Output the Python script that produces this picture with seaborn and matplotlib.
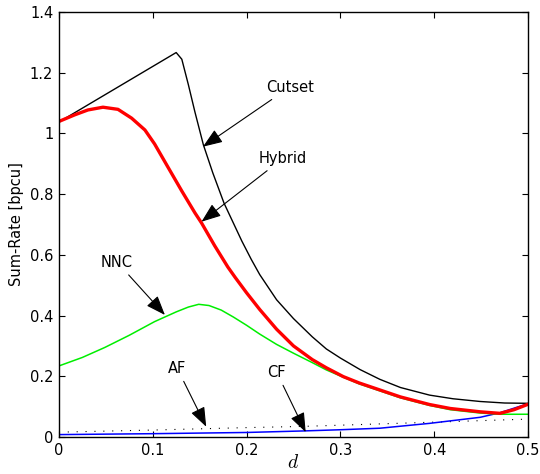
import numpy as np
import pandas as pd
import matplotlib
matplotlib.use('Agg')
import matplotlib.pyplot as plt
import seaborn as sns

# values
cutset_d = [0, 0.125, 0.131, 0.138, 0.145, 0.154, 0.164, 0.176, 0.195, 0.205, 0.214, 0.232, 0.25, 0.27, 0.285,
            0.3, 0.321, 0.342, 0.364, 0.395, 0.42, 0.449, 0.475, 0.5]
cutset_v = [1.037, 1.266, 1.244, 1.16, 1.07, 0.962, 0.87, 0.77, 0.645, 0.585, 0.535, 0.452, 0.39, 0.33, 0.29,
            0.26, 0.222, 0.19, 0.163, 0.138, 0.126, 0.117, 0.112, 0.111]

hybrid_d = [0, 0.017, 0.031, 0.047, 0.063, 0.0775, 0.0917, 0.102, 0.116, 0.131, 0.145, 0.152, 0.166, 0.18,
            0.188, 0.2, 0.214, 0.232, 0.25, 0.27, 0.285, 0.303, 0.32, 0.342, 0.364, 0.395, 0.417, 0.449,
            0.47, 0.485, 0.5]
hybrid_v = [1.039, 1.061, 1.077, 1.086, 1.079, 1.05, 1.011, 0.965, 0.89, 0.81, 0.738, 0.705, 0.63, 0.56,
            0.525, 0.475, 0.42, 0.355, 0.30, 0.255, 0.228, 0.199, 0.178, 0.155, 0.132, 0.107, 0.094, 0.083,
            0.078, 0.09, 0.108]

nnc_d = [0, 0.025, 0.049, 0.075, 0.102, 0.125, 0.138, 0.149, 0.16, 0.173, 0.186, 0.2, 0.214, 0.232, 0.25,
         0.27, 0.285, 0.303, 0.32, 0.342, 0.364, 0.395, 0.417, 0.449, 0.47, 0.5]
nnc_v = [0.234, 0.262, 0.295, 0.335, 0.38, 0.412, 0.428, 0.437, 0.433, 0.418, 0.395, 0.368, 0.339, 0.305, 0.276,
         0.245, 0.221, 0.197, 0.175, 0.152, 0.129, 0.104, 0.09, 0.079, 0.075, 0.075]

cf_d = [0, 0.1, 0.2, 0.26, 0.3, 0.342, 0.395, 0.449, 0.47, 0.5]
cf_v = [0.008, 0.011, 0.015, 0.02, 0.024, 0.029, 0.045, 0.065, 0.08, 0.11]

af_d = [0, 0.1, 0.2, 0.26, 0.3, 0.4, 0.5]
af_v = [0.016, 0.023, 0.031, 0.035, 0.039, 0.049, 0.059]

xticks = [0, 0.1, 0.2, 0.3, 0.4, 0.5]
xticklabels = ['0', '0.1', '0.2', '0.3', '0.4', '0.5']
yticks = [0, 0.2, 0.4, 0.6, 0.8, 1.0, 1.2, 1.4]
yticklabels = ['0', '0.2', '0.4', '0.6', '0.8', '1', '1.2', '1.4']

# label, tip of arrow, text position (data coords)
notes = [
    ('Cutset', (0.1535, 0.956), (0.246, 1.152)),
    ('Hybrid', (0.152, 0.709), (0.239, 0.918)),
    ('NNC', (0.113, 0.402), (0.062, 0.576)),
    ('AF', (0.157, 0.034), (0.126, 0.227)),
    ('CF', (0.263, 0.016), (0.232, 0.214)),
]

sns.set_theme(style='white')
plt.rcParams['font.family'] = ['DejaVu Sans']
plt.rcParams['mathtext.fontset'] = 'cm'
plt.rcParams['text.color'] = 'black'
plt.rcParams['axes.labelcolor'] = 'black'

fig = plt.figure(figsize=(5.4, 4.74), dpi=100)
ax = fig.add_axes([0.109, 0.078, 0.869, 0.897])

sns.lineplot(x=af_d, y=af_v, ax=ax, color='black', lw=0.8, linestyle=(0, (1, 7)), sort=False)
sns.lineplot(x=cf_d, y=cf_v, ax=ax, color='blue', lw=1.1, sort=False)
sns.lineplot(x=nnc_d, y=nnc_v, ax=ax, color='#00ee00', lw=1.1, sort=False)
sns.lineplot(x=cutset_d, y=cutset_v, ax=ax, color='black', lw=1.0, sort=False)
sns.lineplot(x=hybrid_d, y=hybrid_v, ax=ax, color='red', lw=2.4, sort=False)

for label, tip, txt in notes:
    ax.annotate(label, xy=tip, xytext=txt, ha='center', va='center', fontsize=10.5, color='black',
                arrowprops=dict(arrowstyle='-|>,head_length=1.0,head_width=0.38',
                                color='black', lw=0.8, shrinkA=2, shrinkB=0,
                                mutation_scale=12))

ax.set_xlim(0, 0.5)
ax.set_ylim(0, 1.4)
ax.set_xticks(xticks)
ax.set_xticklabels(xticklabels)
ax.set_yticks(yticks)
ax.set_yticklabels(yticklabels)
ax.tick_params(direction='in', length=4, width=0.8, top=True, right=True,
               bottom=True, left=True, labelsize=10.5, colors='black', pad=4)
for s in ax.spines.values():
    s.set_color('black')
    s.set_linewidth(1.0)

ax.set_xlabel('$d$', fontsize=14, labelpad=-3)
ax.set_ylabel('Sum-Rate [bpcu]', fontsize=10.5, labelpad=4)

fig.savefig('out.png', dpi=100)
